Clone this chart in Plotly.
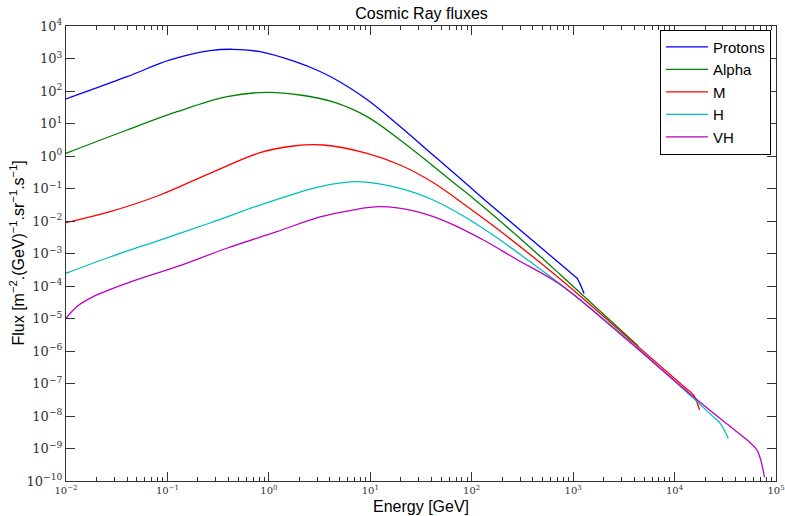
import plotly.graph_objects as go

# ---- data ----
proton_E = [0.01, 0.040, 0.1062, 0.263, 0.4436, 0.8185, 1.734, 3.199, 5.04, 9.29, 19.68, 41.6, 82.3, 141.9, 300.1, 834, 1050, 1094, 1282]
proton_F = [56.8, 275, 900, 1740, 1920, 1620, 838, 398, 189, 54.7, 8.09, 1.074, 0.170, 0.0385, 5.28e-3, 3.56e-4, 1.93e-4, 1.73e-4, 5.87e-5]

alpha_E = [0.01, 0.040, 0.1245, 0.3875, 0.9594, 2.032, 4.297, 9.29, 19.68, 41.6, 64.1, 108.1, 300.1, 745.3, 4375]
alpha_F = [1.211, 6.31, 23.07, 66.8, 91.2, 75.3, 45.9, 16.2, 3.10, 0.492, 0.164, 0.0443, 2.90e-3, 2.26e-4, 1.42e-6]

m_E = [0.01, 0.02716, 0.0845, 0.263, 0.8185, 1.734, 3.427, 9.29, 19.68, 41.6, 90.1, 190.6, 745.3, 2911, 12740, 15350, 17620]
m_F = [8.87e-3, 0.0193, 0.0631, 0.294, 1.265, 2.03, 2.18, 1.21, 0.528, 0.153, 0.0279, 4.92e-3, 1.64e-4, 4.12e-6, 7.38e-8, 4.43e-8, 1.53e-8]

h_E = [0.01, 0.02716, 0.0845, 0.263, 0.8185, 2.032, 3.199, 7.41, 19.68, 41.6, 90.1, 190.6, 403.3, 745.3, 2911, 15350, 23500, 28200, 33810]
h_F = [2.46e-4, 7.80e-4, 2.60e-3, 8.68e-3, 0.0310, 0.078, 0.115, 0.162, 0.101, 0.0443, 0.0121, 2.60e-3, 4.75e-4, 1.15e-4, 3.58e-6, 3.51e-8, 1.01e-8, 5.96e-9, 2.06e-9]

vh_E = [0.01, 0.01276, 0.01858, 0.03972, 0.1236, 0.3846, 1.197, 3.199, 6.32, 12.50, 28.76, 61.2, 130.4, 278.6, 745.3, 2911, 15350, 44400, 55700, 65770, 77100]
vh_F = [1.01e-5, 2.31e-5, 4.69e-5, 1.21e-4, 3.93e-4, 1.45e-3, 4.69e-3, 0.0133, 0.0210, 0.0275, 0.0193, 8.49e-3, 2.60e-3, 6.53e-4, 1.11e-4, 3.33e-6, 3.93e-8, 2.68e-9, 1.51e-9, 8.38e-10, 1.30e-10]

series = [
    ("Protons", proton_E, proton_F, "#0000ff"),
    ("Alpha", alpha_E, alpha_F, "#008000"),
    ("M", m_E, m_F, "#ff0000"),
    ("H", h_E, h_F, "#00bfbf"),
    ("VH", vh_E, vh_F, "#bf00bf"),
]

x_exps = list(range(-2, 6))
y_exps = list(range(-10, 5))

def sup(n):
    s = str(n).replace("-", "\u2212")
    return "10<sup>" + s + "</sup>"

x_minor = [m * 10 ** e for e in range(-2, 5) for m in range(2, 10)]

fig = go.Figure()
for name, E, F, col in series:
    fig.add_trace(go.Scatter(x=E, y=F, mode="lines", name=name,
                             line=dict(color=col, width=1.3, shape="spline", smoothing=1.0)))

axis_common = dict(showgrid=False, zeroline=False, showline=True, linecolor="#333333",
                   linewidth=1.2, mirror="ticks", ticks="inside", tickcolor="#333333",
                   automargin=False)

fig.update_xaxes(type="log", range=[-2, 5], tickvals=[10 ** e for e in x_exps],
                 ticktext=[sup(e) for e in x_exps], ticklen=9,
                 tickfont=dict(family="DejaVu Serif", size=10, color="#333333"),
                 minor=dict(tickvals=x_minor, ticks="inside", ticklen=4, tickcolor="#333333"),
                 **axis_common)
fig.update_yaxes(type="log", range=[-10, 4], tickvals=[10 ** e for e in y_exps],
                 ticktext=[sup(e) for e in y_exps], ticklen=9,
                 tickfont=dict(family="DejaVu Serif", size=13, color="#333333"),
                 **axis_common)

fig.add_annotation(text="Energy [GeV]", xref="paper", yref="paper", x=0.5, y=-0.055,
                   xanchor="center", yanchor="middle", showarrow=False,
                   font=dict(family="Liberation Sans", size=16, color="black"))
fig.add_annotation(text="Flux [m<sup>\u22122</sup>.(GeV)<sup>\u22121</sup>.sr<sup>\u22121</sup>.s<sup>\u22121</sup>]",
                   xref="paper", yref="paper", x=-0.069, y=0.5, textangle=-90,
                   xanchor="center", yanchor="middle", showarrow=False,
                   font=dict(family="Liberation Sans", size=16, color="black"))

fig.update_layout(
    width=785, height=516,
    margin=dict(l=66, r=9, t=26, b=35, autoexpand=False),
    paper_bgcolor="white", plot_bgcolor="white",
    title=dict(text="Cosmic Ray fluxes", x=0.537, xanchor="center", y=0.975, yanchor="middle",
               font=dict(family="Liberation Sans", size=16, color="black")),
    legend=dict(x=0.993, y=0.992, xanchor="right", yanchor="top",
                bgcolor="white", bordercolor="black", borderwidth=1, itemwidth=42,
                font=dict(family="Liberation Sans", size=15, color="black")),
    showlegend=True,
)

fig.write_html("out.html", config={"displayModeBar": False},
               post_script="document.body.style.margin='0px';")
